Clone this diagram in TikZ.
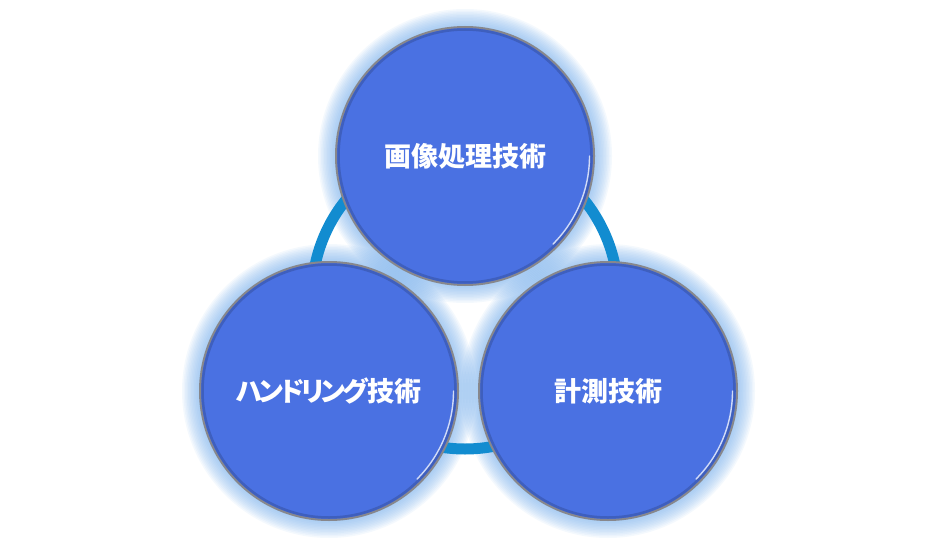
\documentclass[tikz,border=0pt]{standalone}
\usepackage{fontspec}
\newfontfamily\jpfont[RawFeature=+palt]{Noto Sans CJK JP}
\usepackage{xcolor}
\definecolor{azulDisco}{RGB}{74,113,226}
\definecolor{azulAnillo}{RGB}{18,140,208}
\definecolor{azulBrillo}{RGB}{120,175,235}
\definecolor{grisBorde}{RGB}{135,135,140}
\usetikzlibrary{calc}

\begin{document}
\begin{tikzpicture}[
  x=1pt, y=-1pt,
  disco/.style={
    circle, minimum size=258pt, inner sep=0pt,
    fill=azulDisco, draw=grisBorde, line width=2pt,
    text=white, font=\jpfont\bfseries\fontsize{27pt}{32pt}\selectfont
  },
  anillo/.style={draw=azulAnillo, line width=11pt},
  brillo/.style={fill=azulBrillo, opacity=0.08},
  sombra/.style={draw=azulDisco!60!black, line width=2.5pt, opacity=0.4},
  reflejo/.style={draw=white, line width=1.4pt, opacity=0.75, line cap=round}
]
\useasboundingbox (0,0) rectangle (952,548);

%% centros de los tres discos y del anillo
\coordinate (pIMG) at (465,156);
\coordinate (pHAN) at (329,391);
\coordinate (pMED) at (608,391);
\coordinate (ANI)  at (465,296);

%% halo alrededor de cada disco
\foreach \p in {pIMG,pHAN,pMED}
  \foreach \g in {1.5,3,...,18}
    \fill[brillo] (\p) circle[radius=129+\g];

%% anillo de fondo
\draw[anillo] (ANI) circle[radius=153];

%% discos
\node[disco] (IMG) at (pIMG) {画像処理技術};
\node[disco] (HAN) at (pHAN) {{\addfontfeature{LetterSpace=-12}ハンドリング}技術};
\node[disco] (MED) at (pMED) {計測技術};

% borde biselado
\foreach \n in {IMG,HAN,MED} {
  \draw[sombra] (\n.center) circle[radius=126.5];
  \draw[reflejo] (\n.center) ++(0:124.5) arc[start angle=0, end angle=45, radius=124.5];
}

\end{tikzpicture}
\end{document}
